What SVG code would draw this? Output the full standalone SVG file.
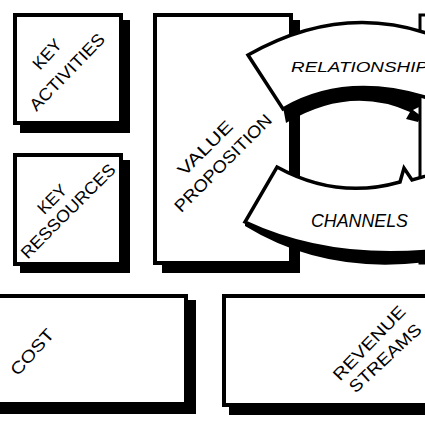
<svg xmlns="http://www.w3.org/2000/svg" width="425" height="425" viewBox="0 0 425 425">
<style>
.shadow{fill:#000}
.box{fill:#fff;stroke:#000;stroke-width:4}
.banner{fill:#fff;stroke:#000;stroke-width:3.5;stroke-linejoin:miter}
.band{fill:#000}
text{font-family:"Liberation Sans",Arial,sans-serif;fill:#000;font-size:17px}
.rt{text-anchor:middle}
.it{font-style:italic}
</style>
<rect width="425" height="425" fill="#fff"/>

<g id="key-activities">
<rect class="shadow" x="20" y="20" width="110" height="113"/>
<rect class="box" x="15" y="15" width="106" height="108"/>
<text class="rt" transform="translate(47,54) rotate(-48)" dy="0.35em">KEY</text>
<text class="rt" transform="translate(67,72) rotate(-46)" dy="0.35em" textLength="100" lengthAdjust="spacingAndGlyphs">ACTIVITIES</text>
</g>

<g id="key-resources">
<rect class="shadow" x="20" y="160" width="110" height="113"/>
<rect class="box" x="15" y="155" width="106" height="109"/>
<text class="rt" transform="translate(52,199) rotate(-45)" dy="0.35em">KEY</text>
<text class="rt" transform="translate(68,211) rotate(-45)" dy="0.35em" textLength="126" lengthAdjust="spacingAndGlyphs">RESSOURCES</text>
</g>

<g id="value-proposition">
<rect class="shadow" x="162" y="20" width="138" height="253"/>
<rect class="box" x="155" y="15" width="136" height="248"/>
<text class="rt" transform="translate(205,148) rotate(-45)" dy="0.35em" textLength="70" lengthAdjust="spacingAndGlyphs">VALUE</text>
<text class="rt" transform="translate(223,163) rotate(-45)" dy="0.35em" textLength="130" lengthAdjust="spacingAndGlyphs">PROPOSITION</text>
</g>

<g id="customer-segments">
<rect class="box" x="420" y="15" width="40" height="248" style="stroke-width:3"/>
</g>

<g id="cost">
<rect class="shadow" x="-5" y="300" width="201" height="114"/>
<rect class="box" x="-10" y="296" width="196" height="108"/>
<text class="rt" transform="translate(32,352) rotate(-48)" dy="0.35em" textLength="56" lengthAdjust="spacingAndGlyphs">COST</text>
</g>

<g id="revenue-streams">
<rect class="shadow" x="229" y="300" width="220" height="115"/>
<rect class="box" x="224" y="296" width="220" height="109"/>
<text class="rt" transform="translate(369,343) rotate(-46)" dy="0.35em" textLength="96" lengthAdjust="spacingAndGlyphs">REVENUE</text>
<text class="rt" transform="translate(385,358) rotate(-43)" dy="0.35em" textLength="92" lengthAdjust="spacingAndGlyphs">STREAMS</text>
</g>

<g id="connectors">
<path class="band" d="M283,107 Q350,68 419,96 L421,106 L413,110 L421,116 L418,122 L406,119 L410,112 Q350,85 286,123 Z"/>
<path class="band" d="M245,220 Q330,258 440,246 L440,260 Q330,278 245,226 Z"/>
</g>

<g id="relationships">
<path class="banner" d="M248,55 Q345,0 440,38 L440,102 Q350,70 283,109 Z"/>
<text class="it" x="291" y="72" style="font-size:15.5px" textLength="137" lengthAdjust="spacingAndGlyphs">RELATIONSHIP</text>
</g>

<g id="channels">
<path class="banner" d="M277,167 Q337,200 400,182 L404,168 L412,180 L440,172 L440,250 Q330,262 245,222 Z"/>
<text class="it" x="311" y="227" style="font-size:18px" textLength="97" lengthAdjust="spacingAndGlyphs">CHANNELS</text>
</g>
</svg>
